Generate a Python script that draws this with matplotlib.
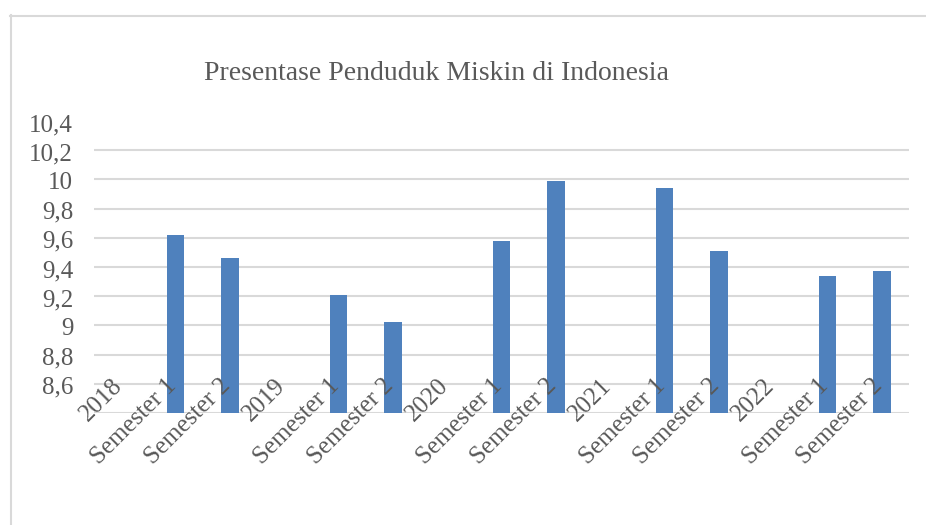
import matplotlib.pyplot as plt
from matplotlib.lines import Line2D
from matplotlib.ticker import FuncFormatter
import matplotlib.transforms as mtransforms

categories = ['2018', 'Semester 1', 'Semester 2',
              '2019', 'Semester 1', 'Semester 2',
              '2020', 'Semester 1', 'Semester 2',
              '2021', 'Semester 1', 'Semester 2',
              '2022', 'Semester 1', 'Semester 2']
# year rows have no value in the source table
values = [None, 9.62, 9.46,
          None, 9.21, 9.02,
          None, 9.58, 9.99,
          None, 9.94, 9.51,
          None, 9.34, 9.37]
y_ticks = [8.6, 8.8, 9.0, 9.2, 9.4, 9.6, 9.8, 10.0, 10.2, 10.4]

bar_color = '#4F81BD'
text_color = '#595959'
grid_color = '#D9D9D9'
plt.rcParams['font.family'] = ['Liberation Serif', 'DejaVu Serif']

W, H = 926, 525
fig = plt.figure(figsize=(W / 100, H / 100), dpi=100)
ax = fig.add_axes([94 / W, 1 - 413 / H, (909 - 94) / W, (413 - 121) / H])

xs = [i for i, v in enumerate(values) if v is not None]
ys = [v for v in values if v is not None]
ax.bar(xs, ys, width=0.33, color=bar_color, zorder=3)

ax.set_xlim(-0.5, len(categories) - 0.5)
ax.set_ylim(8.4, 10.4)
ax.set_yticks(y_ticks)
ax.yaxis.set_major_formatter(FuncFormatter(lambda v, p: ('%g' % round(v, 1)).replace('.', ',')))
ax.tick_params(axis='y', length=0, pad=15, labelsize=18, labelcolor=text_color)
for lbl in ax.get_yticklabels():
    lbl.set_verticalalignment('center')
    lbl.set_transform(lbl.get_transform() + mtransforms.ScaledTranslation(0, -0.04, fig.dpi_scale_trans))
ax.set_xticks([])

# gridlines, top one not drawn
for t in y_ticks[:-1]:
    ax.axhline(t, color=grid_color, lw=1.5, zorder=1)
ax.axhline(8.4, color=grid_color, lw=1.5, zorder=1)
for s in ax.spines.values():
    s.set_visible(False)

# rotated category labels, sitting over the lower part of the plot
trans = mtransforms.blended_transform_factory(ax.transData, ax.transAxes)
for i, c in enumerate(categories):
    ax.text(i + 0.1, 0.13, c, rotation=45, ha='right', va='top',
            fontsize=18, color=text_color, transform=trans, zorder=4)

fig.text(437 / W, 1 - 73 / H, 'Presentase Penduduk Miskin di Indonesia',
         ha='center', va='center', fontsize=20, color=text_color)

# chart frame (only top and left edges visible)
fig.add_artist(Line2D([10 / W, 1], [1 - 15.5 / H] * 2, color=grid_color, lw=1.5))
fig.add_artist(Line2D([11 / W] * 2, [0, 1 - 15 / H], color=grid_color, lw=1.5))

fig.savefig('out.png', dpi=100)
